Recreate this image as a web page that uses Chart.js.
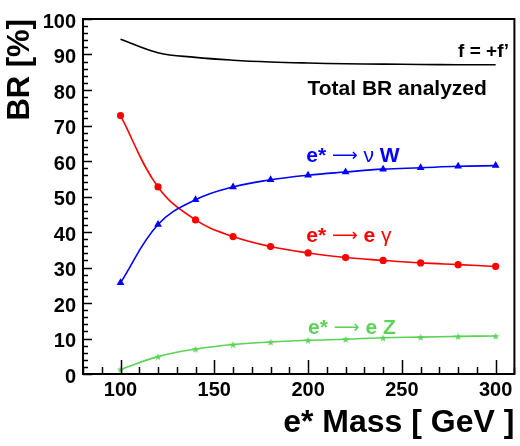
<!DOCTYPE html>
<html>
<head>
<meta charset="utf-8">
<script src="https://cdn.jsdelivr.net/npm/chart.js@4.4.0/dist/chart.umd.min.js"></script>
<style>
  html, body { margin: 0; padding: 0; background: #fff; }
</style>
</head>
<body>
<canvas id="brChart" width="520" height="446"></canvas>
<script>
// e* branching ratios vs mass
const masses = [100, 120, 140, 160, 180, 200, 220, 240, 260, 280, 300];
const brEGamma = [72.8, 52.7, 43.4, 38.7, 35.9, 34.1, 32.8, 32.0, 31.3, 30.8, 30.3];
const brNuW = [25.7, 42.1, 49.1, 52.7, 54.7, 56.0, 56.9, 57.7, 58.1, 58.5, 58.7];
const brEZ = [1.3, 4.9, 7.0, 8.3, 9.0, 9.5, 9.8, 10.2, 10.4, 10.6, 10.7];
const brTotal = [94.3, 90.5, 89.2, 88.4, 87.9, 87.6, 87.4, 87.3, 87.2, 87.1, 87.1];
const xTickLabels = [100, 150, 200, 250, 300];
const yTickLabels = [0, 10, 20, 30, 40, 50, 60, 70, 80, 90, 100];

const FONT = "'Liberation Sans', Arial, sans-serif";
const GREEN = '#59d454';

function points(ys) {
    return masses.map((m, i) => ({ x: m, y: ys[i] }));
}

// filled five-point star, like the ROOT marker
function starImage(size, color) {
    const c = document.createElement('canvas');
    c.width = size;
    c.height = size;
    const g = c.getContext('2d');
    g.fillStyle = color;
    g.beginPath();
    for (let i = 0; i < 10; i++) {
        const r = i % 2 ? size * 0.2 : size * 0.5;
        const a = -Math.PI / 2 + i * Math.PI / 5;
        const px = size / 2 + r * Math.cos(a);
        const py = size / 2 + 0.5 + r * Math.sin(a);
        if (i === 0) g.moveTo(px, py); else g.lineTo(px, py);
    }
    g.closePath();
    g.fill();
    return c;
}

// frame + inward ticks (ROOT style)
const framePlugin = {
    id: 'frame',
    afterDraw(chart) {
        const { ctx, chartArea: a, scales } = chart;
        const xs = scales.x, ys = scales.y;
        ctx.save();
        ctx.strokeStyle = '#000';
        ctx.lineWidth = 2;
        ctx.strokeRect(a.left, a.top, a.right - a.left, a.bottom - a.top);
        ctx.lineWidth = 1.5;
        ctx.beginPath();
        for (let v = 80; v <= 310; v += 10) {
            const px = Math.round(xs.getPixelForValue(v)) + 0.5;
            const len = v % 50 === 0 ? 14 : 7;
            ctx.moveTo(px, a.bottom);
            ctx.lineTo(px, a.bottom - len);
        }
        for (let v = 0; v <= 100; v += 2) {
            const py = Math.round(ys.getPixelForValue(v)) + 0.5;
            const len = v % 10 === 0 ? 9 : 5;
            ctx.moveTo(a.left, py);
            ctx.lineTo(a.left + len, py);
        }
        ctx.stroke();
        ctx.restore();
    }
};

// text labels in data coordinates
const labelPlugin = {
    id: 'labels',
    afterDraw(chart) {
        const { ctx, scales } = chart;
        const xs = scales.x, ys = scales.y;
        // parts: [text, style] where style is 'b' bold, 'n' normal, 'a' arrow
        function rich(x, y, color, parts, size) {
            let px = xs.getPixelForValue(x);
            const py = ys.getPixelForValue(y);
            ctx.fillStyle = color;
            ctx.textBaseline = 'alphabetic';
            ctx.textAlign = 'left';
            parts.forEach(([txt, style]) => {
                if (style === 'a') ctx.font = '18px "DejaVu Sans", sans-serif';
                else ctx.font = (style === 'b' ? 'bold ' : '') + size + 'px ' + FONT;
                ctx.fillText(txt, px, py - (style === 'a' ? 1 : 0));
                px += ctx.measureText(txt).width;
            });
        }
        ctx.save();
        ctx.fillStyle = '#000';
        ctx.font = 'bold 19px ' + FONT;
        ctx.textAlign = 'right';
        ctx.fillText('f = +f\u2019', xs.getPixelForValue(307.2), ys.getPixelForValue(89.4));
        ctx.textAlign = 'left';
        ctx.font = 'bold 21px ' + FONT;
        ctx.fillText('Total BR analyzed', xs.getPixelForValue(199.7), ys.getPixelForValue(78.7));
        rich(199, 59.6, '#0000ff', [['e*', 'b'], [' ', 'n'], ['\u27f6', 'a'], [' \u03bd ', 'n'], ['W', 'b']], 21);
        rich(199, 37.2, '#ff0000', [['e*', 'b'], [' ', 'n'], ['\u27f6', 'a'], [' ', 'n'], ['e ', 'b'], ['\u03b3', 'n']], 21);
        rich(200, 11.4, GREEN, [['e*', 'b'], [' ', 'n'], ['\u27f6', 'a'], [' ', 'n'], ['e Z', 'b']], 21);
        ctx.restore();
    }
};

const ctx = document.getElementById('brChart').getContext('2d');

const brChart = new Chart(ctx, {
    type: 'line',
    data: {
        datasets: [
            {
                label: 'Total BR analyzed',
                data: points(brTotal),
                borderColor: '#000',
                borderWidth: 1.6,
                pointRadius: 0,
                tension: 0.4
            },
            {
                label: 'e* -> nu W',
                data: points(brNuW),
                borderColor: '#0000ff',
                backgroundColor: '#0000ff',
                borderWidth: 1.6,
                pointStyle: 'triangle',
                pointRadius: 4.5,
                pointBorderWidth: 0,
                tension: 0.4
            },
            {
                label: 'e* -> e gamma',
                data: points(brEGamma),
                borderColor: '#ff0000',
                backgroundColor: '#ff0000',
                borderWidth: 1.6,
                pointStyle: 'circle',
                pointRadius: 3.6,
                pointBorderWidth: 0,
                tension: 0.4
            },
            {
                label: 'e* -> e Z',
                data: points(brEZ),
                borderColor: GREEN,
                backgroundColor: GREEN,
                borderWidth: 1.6,
                pointStyle: starImage(8, GREEN),
                tension: 0.4
            }
        ]
    },
    options: {
        responsive: false,
        animation: false,
        events: [],
        layout: { padding: { top: 8, right: 4, left: 0, bottom: 0 } },
        plugins: {
            legend: { display: false },
            tooltip: { enabled: false }
        },
        scales: {
            x: {
                type: 'linear',
                min: 80,
                max: 310,
                grid: { display: false, drawTicks: false },
                border: { display: false },
                afterBuildTicks: (scale) => {
                    scale.ticks = xTickLabels.map(v => ({ value: v }));
                },
                afterFit: (scale) => { scale.height = 72; },
                ticks: {
                    color: '#000',
                    padding: 4,
                    maxRotation: 0,
                    font: { family: FONT, size: 20, weight: 'bold' }
                },
                title: {
                    display: true,
                    text: 'e* Mass [ GeV ]',
                    align: 'end',
                    color: '#000',
                    padding: { top: 0, bottom: 4 },
                    font: { family: FONT, size: 32, weight: 'bold' }
                }
            },
            y: {
                min: 0,
                max: 100,
                grid: { display: false, drawTicks: false },
                border: { display: false },
                afterBuildTicks: (scale) => {
                    scale.ticks = yTickLabels.map(v => ({ value: v }));
                },
                afterFit: (scale) => { scale.width = 83; },
                ticks: {
                    color: '#000',
                    padding: 7,
                    labelOffset: 3,
                    font: { family: FONT, size: 20, weight: 'bold' }
                },
                title: {
                    display: true,
                    text: 'BR [%]',
                    align: 'end',
                    color: '#000',
                    padding: { top: 2, bottom: 0 },
                    font: { family: FONT, size: 31, weight: 'bold' }
                }
            }
        }
    },
    plugins: [framePlugin, labelPlugin]
});
</script>
</body>
</html>
